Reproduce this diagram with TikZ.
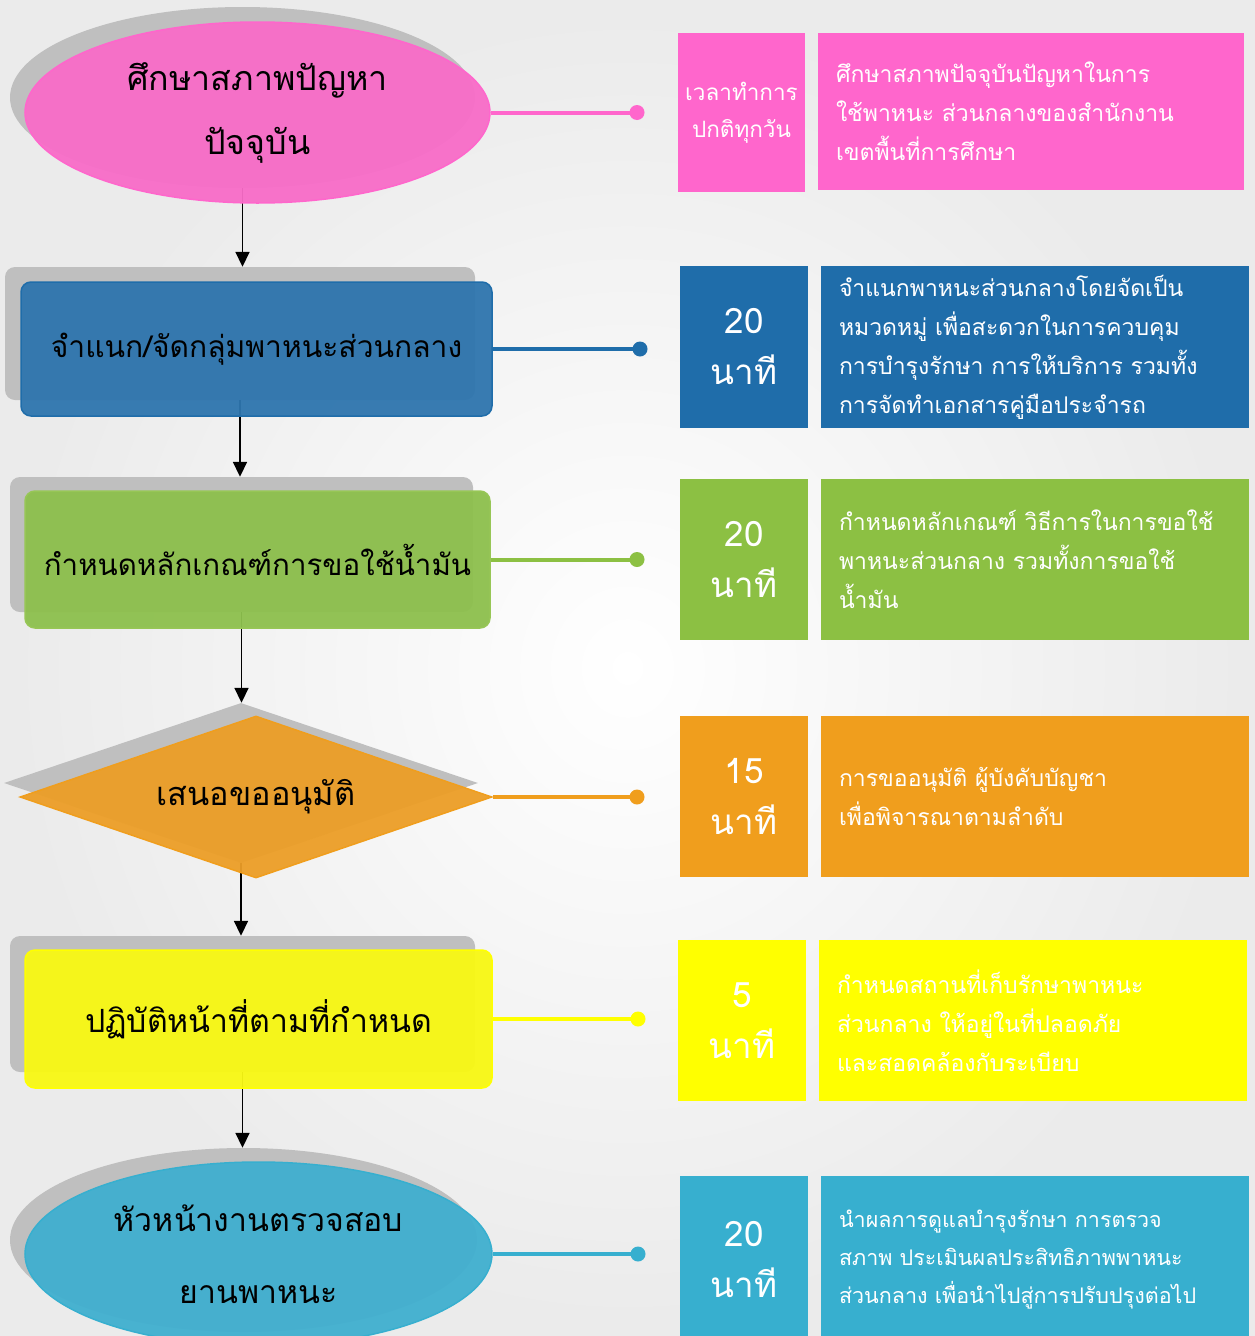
\documentclass[tikz,border=0pt]{standalone}
\usepackage{fontspec}
\newfontfamily\thai[Script=Thai]{Loma}
\usetikzlibrary{shapes.geometric,arrows.meta}
\definecolor{pinkA}{HTML}{F86CC8}
\definecolor{pinkB}{HTML}{FF66CC}
\definecolor{blueA}{HTML}{2E75AE}
\definecolor{blueB}{HTML}{1F6DAA}
\definecolor{greenA}{HTML}{8DC04D}
\definecolor{greenB}{HTML}{8CC043}
\definecolor{orangeA}{HTML}{EC9E27}
\definecolor{orangeB}{HTML}{F09E1D}
\definecolor{yellowA}{HTML}{F8F813}
\definecolor{yellowB}{HTML}{FFFF00}
\definecolor{cyanA}{HTML}{40AFCF}
\definecolor{cyanB}{HTML}{37AFCF}
\definecolor{shadowgray}{HTML}{BFBFBF}
\tikzset{
  shd/.style={fill=shadowgray, draw=none, inner sep=0pt},
  mainshape/.style={fill opacity=0.95, text opacity=1, line width=1.5pt, inner sep=0pt,
     text=black, align=center},
  flowarrow/.style={line width=1.8pt, -{Triangle[length=15pt,width=14pt]}},
  conn/.style={line width=4pt},
  dotnode/.style={circle, minimum size=15pt, inner sep=0pt, draw=none},
  timebox/.style={minimum width=128pt, minimum height=160pt, inner sep=0pt, draw=none,
     text=white, align=center, font=\thai\fontsize{35}{51}\selectfont},
  descbox/.style={minimum width=428pt, minimum height=161pt, inner xsep=18pt, inner ysep=0pt,
     text width=392pt, draw=none, text=white, align=left,
     font=\thai\fontsize{23}{39}\selectfont},
}
\begin{document}
\begin{tikzpicture}[x=1pt,y=-1pt]
\useasboundingbox (0,0) rectangle (1255,1336);
\shade[inner color=white, outer color=gray!16] (0,0) rectangle (1255,1336);

% shadows
\node[shd, ellipse, minimum width=465pt, minimum height=181pt] (s1) at (242.5,97.5) {};
\node[shd, rectangle, rounded corners=10pt, minimum width=470pt, minimum height=133pt] (s2) at (240,333.5) {};
\node[shd, rectangle, rounded corners=10pt, minimum width=463pt, minimum height=135pt] (s3) at (241.5,544.5) {};
\node[shd, diamond, shape aspect=2.9, minimum width=474pt, minimum height=160pt] (s4) at (241,783) {};
\node[shd, rectangle, rounded corners=10pt, minimum width=465pt, minimum height=136pt] (s5) at (242.5,1004) {};
\node[shd, ellipse, minimum width=467pt, minimum height=184pt] (s6) at (243.5,1240) {};

% arrows
\draw[flowarrow] (s1.south) -- (s1.south |- s2.north);
\draw[flowarrow] (s2.south) -- (s2.south |- s3.north);
\draw[flowarrow] (s3.south) -- (s3.south |- s4.north);
\draw[flowarrow] (s4.south) -- (s4.south |- s5.north);
\draw[flowarrow] (s5.south) -- (s5.south |- s6.north);

% main shapes
\node[mainshape, ellipse, fill=pinkA, draw=pinkB, minimum width=465pt, minimum height=181pt,
  font=\thai\fontsize{34}{46}\selectfont] (m1) at (257.5,112.5)
  {ศึกษาสภาพปัญหา\\[18pt]ปัจจุบัน};
\node[mainshape, rectangle, rounded corners=10pt, fill=blueA, draw=blueB, minimum width=471pt, minimum height=134pt,
  font=\thai\fontsize{30}{40}\selectfont] (m2) at (256.5,349)
  {จำแนก/จัดกลุ่มพาหนะส่วนกลาง};
\node[mainshape, rectangle, rounded corners=10pt, fill=greenA, draw=greenB!90!white, minimum width=465pt, minimum height=137pt,
  font=\thai\fontsize{29.5}{40}\selectfont] (m3) at (257.5,559.5)
  {กำหนดหลักเกณฑ์การขอใช้น้ำมัน};
\node[mainshape, diamond, shape aspect=2.9, fill=orangeA, draw=orangeB, minimum width=472pt, minimum height=162pt,
  font=\thai\fontsize{32.5}{40}\selectfont] (m4) at (256,797)
  {เสนอขออนุมัติ};
\node[mainshape, rectangle, rounded corners=10pt, fill=yellowA, draw=yellowB, minimum width=467pt, minimum height=138pt,
  font=\thai\fontsize{32}{40}\selectfont] (m5) at (258.5,1019)
  {ปฏิบัติหน้าที่ตามที่กำหนด};
\node[mainshape, ellipse, fill=cyanA, draw=cyanB, minimum width=467pt, minimum height=184pt,
  font=\thai\fontsize{32}{44}\selectfont] (m6) at (258.5,1254)
  {หัวหน้างานตรวจสอบ\\[28pt]ยานพาหนะ};

% dots and connectors
\node[dotnode, fill=pinkB] (d1) at (637,112.5) {};
\node[dotnode, fill=blueB] (d2) at (640,349) {};
\node[dotnode, fill=greenB] (d3) at (637,559.5) {};
\node[dotnode, fill=orangeB] (d4) at (637,797) {};
\node[dotnode, fill=yellowB] (d5) at (638,1019) {};
\node[dotnode, fill=cyanB] (d6) at (638,1254) {};
\draw[conn, pinkB] (m1.east) -- (d1.center);
\draw[conn, blueB] (m2.east) -- (d2.center);
\draw[conn, greenB] (m3.east) -- (d3.center);
\draw[conn, orangeB] (m4.east) -- (d4.center);
\draw[conn, yellowB] (m5.east) -- (d5.center);
\draw[conn, cyanB] (m6.east) -- (d6.center);

% time boxes
\node[timebox, fill=pinkB, minimum width=127pt, minimum height=159pt, font=\thai\fontsize{22.5}{37}\selectfont] (t1) at (741.5,112.5) {เวลาทำการ\\ปกติทุกวัน};
\node[timebox, fill=blueB, minimum height=162pt] (t2) at (744,347) {20\\นาที};
\node[timebox, fill=greenB, minimum height=161pt] (t3) at (744,559.5) {20\\นาที};
\node[timebox, fill=orangeB, minimum height=161pt] (t4) at (744,796.5) {15\\นาที};
\node[timebox, fill=yellowB, minimum height=161pt] (t5) at (742,1020.5) {5\\นาที};
\node[timebox, fill=cyanB, minimum height=168pt] (t6) at (744,1260) {20\\นาที};

% description boxes
\node[descbox, fill=pinkB, minimum width=426pt, text width=390pt, minimum height=157pt] (b1) at (1031,111.5)
  {ศึกษาสภาพปัจจุบันปัญหาในการ\\ใช้พาหนะ ส่วนกลางของสำนักงาน\\เขตพื้นที่การศึกษา};
\node[descbox, fill=blueB, minimum height=162pt] (b2) at (1035,347)
  {จำแนกพาหนะส่วนกลางโดยจัดเป็น\\หมวดหมู่ เพื่อสะดวกในการควบคุม\\การบำรุงรักษา การให้บริการ รวมทั้ง\\การจัดทำเอกสารคู่มือประจำรถ};
\node[descbox, fill=greenB] (b3) at (1035,559.5)
  {กำหนดหลักเกณฑ์ วิธีการในการขอใช้\\พาหนะส่วนกลาง รวมทั้งการขอใช้\\น้ำมัน};
\node[descbox, fill=orangeB] (b4) at (1035,796.5)
  {การขออนุมัติ ผู้บังคับบัญชา\\เพื่อพิจารณาตามลำดับ};
\node[descbox, fill=yellowB] (b5) at (1033,1020.5)
  {กำหนดสถานที่เก็บรักษาพาหนะ\\ส่วนกลาง ให้อยู่ในที่ปลอดภัย\\และสอดคล้องกับระเบียบ};
\node[descbox, fill=cyanB, minimum height=168pt, font=\thai\fontsize{21.5}{38}\selectfont] (b6) at (1035,1260)
  {นำผลการดูแลบำรุงรักษา การตรวจ\\สภาพ ประเมินผลประสิทธิภาพพาหนะ\\ส่วนกลาง เพื่อนำไปสู่การปรับปรุงต่อไป};
\end{tikzpicture}
\end{document}
